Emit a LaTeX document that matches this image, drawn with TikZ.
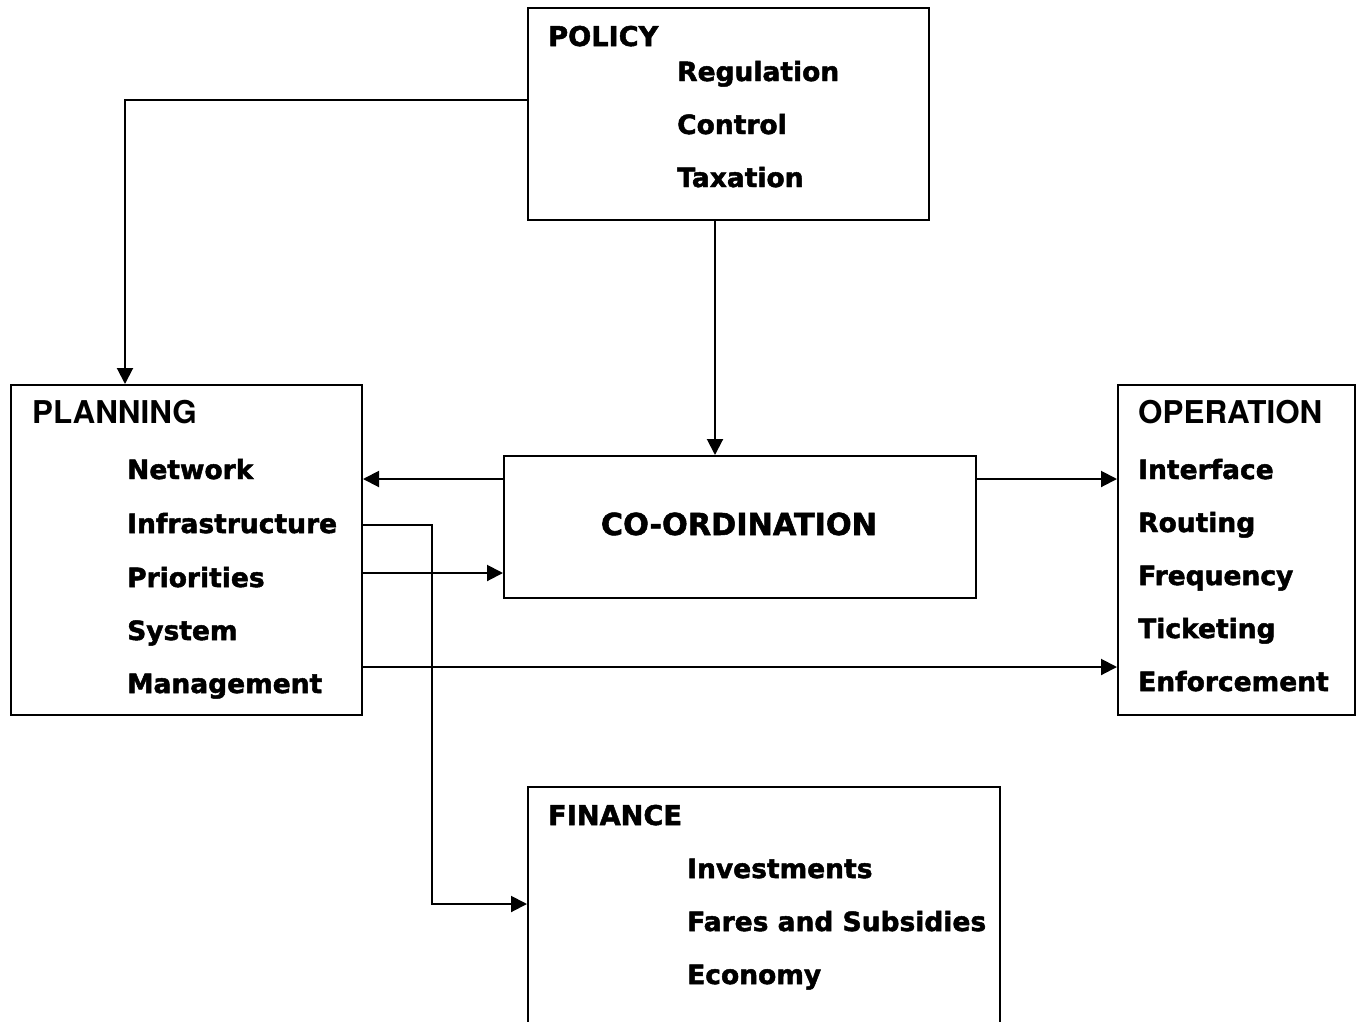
\documentclass[tikz,border=0pt]{standalone}
\usepackage{fontspec}
\setmainfont{DejaVu Sans}[BoldFeatures={FakeBold=1.8}]
\newfontfamily\arialf{texgyreheros-bold.otf}
\usetikzlibrary{arrows.meta}
\begin{document}
\begin{tikzpicture}[x=1pt,y=-1pt,
  box/.style={draw, line width=2pt, anchor=north west, inner sep=0pt},
  txt/.style={anchor=base west, inner sep=0pt, font=\fontsize{26.5}{30}\selectfont\bfseries},
  ttl/.style={anchor=base west, inner sep=0pt, font=\fontsize{27.2}{30}\selectfont\bfseries},
  ttla/.style={anchor=base west, inner sep=0pt, font=\fontsize{31.4}{34}\selectfont\arialf},
  big/.style={anchor=base, inner sep=0pt, font=\fontsize{30.3}{34}\selectfont\bfseries},
  arr/.style={line width=2pt, -{Triangle[length=16pt,width=16pt]}}]
\useasboundingbox (0,0) rectangle (1360,1021);
\fill[white] (0,0) rectangle (1360,1021);
\clip (0,0) rectangle (1360,1021);
% boxes
\node[box, minimum width=401pt, minimum height=212pt] (policy) at (527,7) {};
\node[box, minimum width=351pt, minimum height=330pt] (planning) at (10,384) {};
\node[box, minimum width=472pt, minimum height=142pt] (coord) at (503,455) {};
\node[box, minimum width=237pt, minimum height=330pt] (operation) at (1117,384) {};
\node[box, minimum width=472pt, minimum height=280pt] (finance) at (527,786) {};
% policy texts
\node[ttl] (pt) at (548,46) {POLICY};
\node[txt] (p1) at (677,81) {Regulation};
\node[txt] (p2) at (677,134) {Control};
\node[txt] (p3) at (677,187) {Taxation};
% planning texts
\node[ttla] (lt) at (32,423) {PLANNING};
\node[txt] (l1) at (127,479) {Network};
\node[txt] (l2) at (127,533) {Infrastructure};
\node[txt] (l3) at (127,587) {Priorities};
\node[txt] (l4) at (127,640) {System};
\node[txt] (l5) at (127,693) {Management};
% operation texts
\node[ttla] (ot) at (1138,423) {OPERATION};
\node[txt] (o1) at (1138,479) {Interface};
\node[txt] (o2) at (1138,532) {Routing};
\node[txt] (o3) at (1138,585) {Frequency};
\node[txt] (o4) at (1138,638) {Ticketing};
\node[txt] (o5) at (1138,691) {Enforcement};
% coordination
\node[big] (ct) at (739,535) {CO-ORDINATION};
% finance texts
\node[ttl] (ft) at (548,825) {FINANCE};
\node[txt] (f1) at (687,878) {Investments};
\node[txt] (f2) at (687,931) {Fares and Subsidies};
\node[txt] (f3) at (687,984) {Economy};
% connectors
\draw[arr] ([yshift=14pt]policy.west) -| (planning.north -| 125,0);
\draw[arr] (policy.south -| 715,0) -- (coord.north -| 715,0);
\draw[arr] (coord.west |- 0,479) -- (planning.east |- 0,479);
\draw[arr] (coord.east |- 0,479) -- (operation.west |- 0,479);
\draw[arr] (planning.east |- 0,525) -| (432,904) -- (finance.west |- 0,904);
\draw[arr] (planning.east |- 0,573) -- (coord.west |- 0,573);
\draw[arr] (planning.east |- 0,667) -- (operation.west |- 0,667);
\end{tikzpicture}
\end{document}
